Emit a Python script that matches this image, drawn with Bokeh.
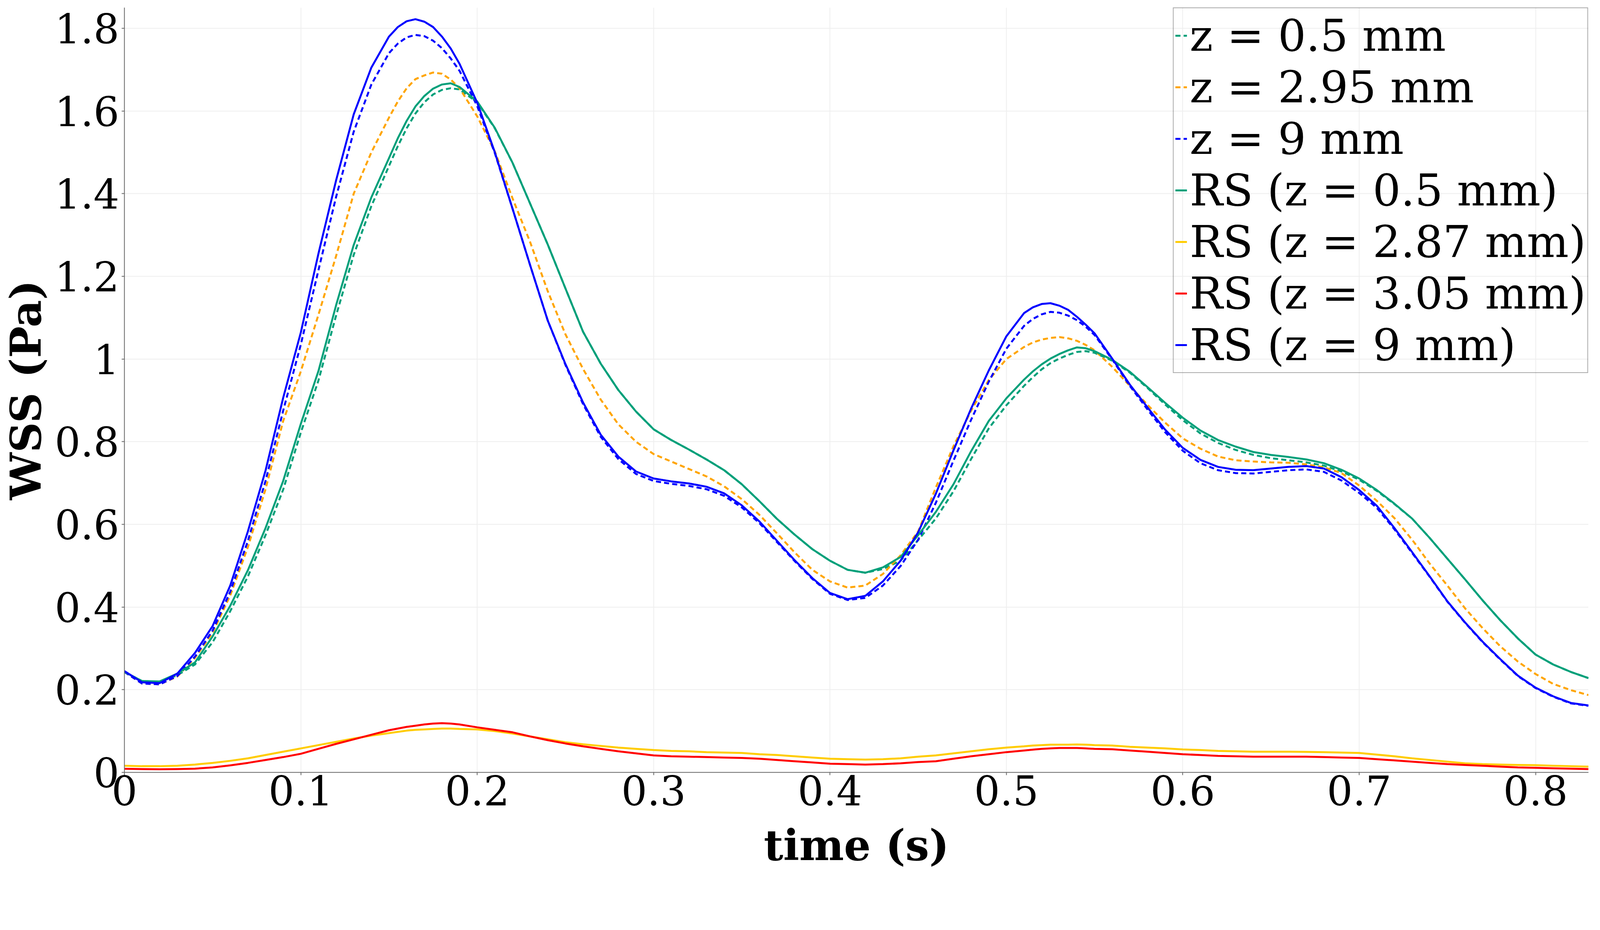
from bokeh.plotting import figure
from bokeh.models import Range1d, FixedTicker, NumeralTickFormatter, Legend, LegendItem
from bokeh.embed import file_html
from bokeh.resources import INLINE

# time (s)
t = [0.00, 0.01, 0.02, 0.03, 0.04, 0.05, 0.06, 0.07, 0.08, 0.09,
     0.10, 0.11, 0.12, 0.13, 0.14, 0.15, 0.155, 0.16, 0.165, 0.17, 0.175, 0.18, 0.185, 0.19,
     0.20, 0.21, 0.22, 0.23, 0.24, 0.25, 0.26, 0.27, 0.28, 0.29,
     0.30, 0.31, 0.32, 0.33, 0.34, 0.35, 0.36, 0.37, 0.38, 0.39,
     0.40, 0.41, 0.42, 0.43, 0.44, 0.45, 0.46, 0.47, 0.48, 0.49,
     0.50, 0.51, 0.515, 0.52, 0.525, 0.53, 0.535, 0.54, 0.545, 0.55, 0.56, 0.57, 0.58, 0.59,
     0.60, 0.61, 0.62, 0.63, 0.64, 0.65, 0.66, 0.67, 0.68, 0.69,
     0.70, 0.71, 0.72, 0.73, 0.74, 0.75, 0.76, 0.77, 0.78, 0.79,
     0.80, 0.81, 0.82, 0.83]

# z = 0.5 mm (dashed)
z05 = [0.243, 0.221, 0.219, 0.235, 0.261, 0.315, 0.390, 0.474, 0.574, 0.684,
       0.822, 0.948, 1.105, 1.252, 1.370, 1.467, 1.515, 1.558, 1.594, 1.621, 1.640, 1.651, 1.655, 1.652,
       1.621, 1.558, 1.475, 1.376, 1.277, 1.171, 1.066, 0.989, 0.925, 0.873,
       0.830, 0.804, 0.781, 0.757, 0.731, 0.697, 0.656, 0.613, 0.575, 0.540,
       0.512, 0.490, 0.483, 0.492, 0.512, 0.562, 0.614, 0.680, 0.758, 0.832,
       0.888, 0.935, 0.956, 0.975, 0.990, 1.001, 1.010, 1.017, 1.019, 1.015, 0.996, 0.967, 0.930, 0.890,
       0.852, 0.820, 0.797, 0.780, 0.768, 0.760, 0.755, 0.750, 0.742, 0.728,
       0.708, 0.681, 0.649, 0.614, 0.567, 0.517, 0.467, 0.416, 0.368, 0.324,
       0.285, 0.261, 0.243, 0.228]

# z = 2.95 mm (dashed)
z295 = [0.243, 0.215, 0.213, 0.232, 0.277, 0.338, 0.428, 0.545, 0.685, 0.850,
        0.970, 1.107, 1.249, 1.400, 1.500, 1.584, 1.623, 1.655, 1.677, 1.686, 1.693, 1.690, 1.676, 1.655,
        1.587, 1.502, 1.389, 1.283, 1.164, 1.060, 0.976, 0.902, 0.842, 0.800,
        0.770, 0.752, 0.734, 0.716, 0.692, 0.661, 0.623, 0.578, 0.532, 0.490,
        0.462, 0.447, 0.452, 0.480, 0.525, 0.583, 0.689, 0.789, 0.875, 0.949,
        1.000, 1.029, 1.040, 1.047, 1.051, 1.053, 1.050, 1.044, 1.034, 1.021, 0.981, 0.935, 0.889, 0.846,
        0.808, 0.783, 0.764, 0.755, 0.752, 0.750, 0.749, 0.745, 0.738, 0.724,
        0.694, 0.657, 0.615, 0.563, 0.505, 0.452, 0.397, 0.349, 0.305, 0.268,
        0.238, 0.214, 0.199, 0.187]

# z = 9 mm (dashed)
z9 = [0.243, 0.215, 0.213, 0.233, 0.280, 0.343, 0.437, 0.560, 0.705, 0.875,
      1.035, 1.215, 1.392, 1.550, 1.664, 1.740, 1.763, 1.778, 1.784, 1.781, 1.770, 1.752, 1.727, 1.697,
      1.612, 1.498, 1.364, 1.227, 1.093, 0.986, 0.891, 0.812, 0.758, 0.722,
      0.705, 0.698, 0.693, 0.685, 0.669, 0.641, 0.603, 0.557, 0.511, 0.468,
      0.432, 0.417, 0.422, 0.452, 0.499, 0.563, 0.652, 0.754, 0.853, 0.945,
      1.025, 1.080, 1.097, 1.108, 1.114, 1.112, 1.105, 1.094, 1.078, 1.058, 0.999, 0.935, 0.878, 0.823,
      0.778, 0.748, 0.731, 0.724, 0.723, 0.727, 0.731, 0.733, 0.727, 0.706,
      0.676, 0.640, 0.588, 0.531, 0.473, 0.413, 0.362, 0.315, 0.273, 0.233,
      0.204, 0.183, 0.167, 0.161]

# RS (z = 0.5 mm)
rs05 = [0.243, 0.221, 0.220, 0.239, 0.266, 0.329, 0.403, 0.489, 0.591, 0.705,
        0.843, 0.971, 1.130, 1.276, 1.391, 1.486, 1.534, 1.576, 1.611, 1.636, 1.654, 1.664, 1.667, 1.658,
        1.623, 1.559, 1.475, 1.376, 1.277, 1.171, 1.066, 0.989, 0.925, 0.873,
        0.830, 0.804, 0.781, 0.757, 0.731, 0.697, 0.656, 0.613, 0.575, 0.540,
        0.512, 0.490, 0.483, 0.496, 0.521, 0.574, 0.630, 0.697, 0.777, 0.850,
        0.905, 0.950, 0.970, 0.987, 1.001, 1.012, 1.021, 1.028, 1.026, 1.019, 0.998, 0.969, 0.932, 0.894,
        0.858, 0.827, 0.804, 0.788, 0.775, 0.768, 0.763, 0.757, 0.748, 0.732,
        0.711, 0.683, 0.650, 0.614, 0.567, 0.517, 0.467, 0.416, 0.368, 0.324,
        0.285, 0.261, 0.243, 0.228]

# RS (z = 2.87 mm)
rs287 = [0.016, 0.015, 0.015, 0.016, 0.019, 0.023, 0.028, 0.034, 0.042, 0.050,
         0.058, 0.066, 0.074, 0.082, 0.089, 0.095, 0.098, 0.101, 0.103, 0.104, 0.105, 0.106, 0.106, 0.105,
         0.104, 0.100, 0.094, 0.087, 0.080, 0.073, 0.068, 0.064, 0.060, 0.057,
         0.054, 0.052, 0.051, 0.049, 0.048, 0.047, 0.044, 0.042, 0.039, 0.036,
         0.033, 0.032, 0.031, 0.032, 0.034, 0.038, 0.041, 0.046, 0.051, 0.056,
         0.060, 0.063, 0.065, 0.066, 0.067, 0.067, 0.067, 0.0675, 0.067, 0.066, 0.065, 0.062, 0.060, 0.058,
         0.0555, 0.054, 0.052, 0.051, 0.050, 0.050, 0.050, 0.0497, 0.049, 0.048,
         0.047, 0.043, 0.039, 0.034, 0.030, 0.026, 0.022, 0.020, 0.019, 0.018,
         0.0174, 0.016, 0.015, 0.014]

# RS (z = 3.05 mm)
rs305 = [0.0088, 0.008, 0.0075, 0.008, 0.009, 0.012, 0.017, 0.023, 0.030, 0.037,
         0.045, 0.057, 0.069, 0.080, 0.091, 0.102, 0.106, 0.110, 0.113, 0.116, 0.118, 0.119, 0.118, 0.116,
         0.109, 0.103, 0.097, 0.087, 0.078, 0.070, 0.063, 0.057, 0.051, 0.046,
         0.041, 0.039, 0.038, 0.037, 0.036, 0.035, 0.033, 0.030, 0.027, 0.024,
         0.021, 0.020, 0.019, 0.020, 0.022, 0.025, 0.027, 0.033, 0.039, 0.044,
         0.049, 0.053, 0.055, 0.057, 0.058, 0.059, 0.059, 0.059, 0.058, 0.057, 0.056, 0.053, 0.050, 0.047,
         0.044, 0.042, 0.040, 0.039, 0.038, 0.038, 0.038, 0.038, 0.037, 0.036,
         0.035, 0.032, 0.029, 0.026, 0.023, 0.020, 0.018, 0.016, 0.014, 0.012,
         0.011, 0.010, 0.009, 0.008]

# RS (z = 9 mm)
rs9 = [0.245, 0.218, 0.216, 0.239, 0.289, 0.354, 0.452, 0.583, 0.730, 0.906,
       1.064, 1.255, 1.432, 1.592, 1.705, 1.780, 1.803, 1.817, 1.822, 1.816, 1.803, 1.780, 1.751, 1.714,
       1.620, 1.500, 1.364, 1.227, 1.093, 0.988, 0.895, 0.817, 0.764, 0.728,
       0.711, 0.704, 0.699, 0.691, 0.675, 0.646, 0.607, 0.560, 0.513, 0.470,
       0.434, 0.419, 0.427, 0.462, 0.512, 0.581, 0.674, 0.779, 0.880, 0.972,
       1.055, 1.111, 1.125, 1.133, 1.135, 1.129, 1.119, 1.102, 1.083, 1.062, 1.001, 0.938, 0.883, 0.829,
       0.785, 0.756, 0.739, 0.732, 0.731, 0.735, 0.739, 0.741, 0.735, 0.714,
       0.683, 0.645, 0.591, 0.533, 0.474, 0.414, 0.363, 0.316, 0.274, 0.234,
       0.205, 0.184, 0.168, 0.162]

labels = ["z = 0.5 mm", "z = 2.95 mm", "z = 9 mm",
          "RS (z = 0.5 mm)", "RS (z = 2.87 mm)", "RS (z = 3.05 mm)", "RS (z = 9 mm)"]
series = [z05, z295, z9, rs05, rs287, rs305, rs9]
colors = ["#00A07A", "#FFA500", "#0000FF", "#00A07A", "#FFCC00", "#FF0000", "#0000FF"]
dashes = ["13 8", "13 8", "13 8", "solid", "solid", "solid", "solid"]

x_ticks = [0, 0.1, 0.2, 0.3, 0.4, 0.5, 0.6, 0.7, 0.8]
y_ticks = [0, 0.2, 0.4, 0.6, 0.8, 1.0, 1.2, 1.4, 1.6, 1.8]

FONT = "DejaVu Serif"

p = figure(width=4084, height=2243, output_backend="svg", toolbar_location=None,
           x_range=Range1d(0, 0.83), y_range=Range1d(0, 1.85),
           min_border_left=316, min_border_right=18, min_border_top=19,
           min_border_bottom=266)
p.outline_line_color = None
p.background_fill_color = "white"
p.border_fill_color = "white"

items = []
for lab, ys, col, dsh in zip(labels, series, colors, dashes):
    r = p.line(t, ys, line_color=col, line_width=5, line_dash=dsh,
               line_join="round")
    items.append(LegendItem(label=lab, renderers=[r]))

for ax in (p.xaxis[0], p.yaxis[0]):
    ax.axis_line_color = "#666666"
    ax.axis_line_width = 2
    ax.major_tick_line_color = "#666666"
    ax.major_tick_line_width = 2
    ax.major_tick_out = 7
    ax.major_tick_in = 0
    ax.minor_tick_line_color = None
    ax.major_label_text_font = FONT
    ax.major_label_text_font_size = "104px"
    ax.major_label_text_color = "black"
    ax.axis_label_text_font = FONT
    ax.axis_label_text_font_size = "108px"
    ax.axis_label_text_font_style = "bold"
    ax.axis_label_text_color = "black"
    ax.formatter = NumeralTickFormatter(format="0.[0]")

p.xaxis[0].ticker = FixedTicker(ticks=x_ticks)
p.yaxis[0].ticker = FixedTicker(ticks=y_ticks)
p.xaxis[0].axis_label = "time (s)"
p.yaxis[0].axis_label = "WSS (Pa)"
p.xaxis[0].major_label_standoff = 0
p.yaxis[0].major_label_standoff = 6
p.xaxis[0].axis_label_standoff = 36
p.yaxis[0].axis_label_standoff = 8

for g in (p.xgrid[0], p.ygrid[0]):
    g.grid_line_color = "#eeeeee"
    g.grid_line_width = 2
p.xgrid[0].ticker = FixedTicker(ticks=x_ticks)
p.ygrid[0].ticker = FixedTicker(ticks=y_ticks)

legend = Legend(items=items, location="top_right", margin=0, padding=4,
                spacing=0, glyph_width=30, glyph_height=40, label_standoff=7,
                label_text_font=FONT, label_text_font_size="113px",
                label_text_color="black",
                border_line_color="#555555", border_line_width=2,
                background_fill_alpha=0.0)
p.add_layout(legend)

open("out.html", "w").write(file_html(p, INLINE))
